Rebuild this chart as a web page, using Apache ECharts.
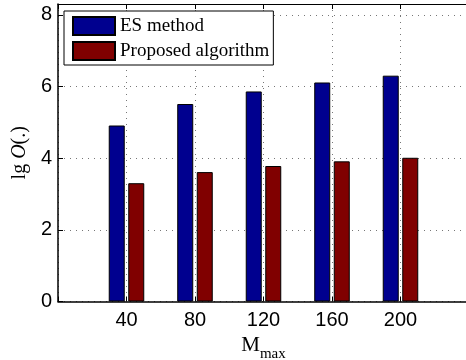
<!DOCTYPE html>
<html>
<head>
<meta charset="utf-8">
<script src="https://cdn.jsdelivr.net/npm/echarts@6/dist/echarts.min.js"></script>
<style>
    html, body { margin: 0; padding: 0; background: #fff; }
    #chart { width: 466px; height: 360px; }
</style>
</head>
<body>
<div id="chart"></div>
<script>
// M_max values and lg O(.) for each method
var mMax = [40, 80, 120, 160, 200];
var esMethod = [4.91, 5.51, 5.86, 6.11, 6.30];
var proposed = [3.30, 3.61, 3.78, 3.91, 4.01];
var xTicks = [40, 80, 120, 160, 200];

var pairs = function (ys) {
    return mMax.map(function (m, i) { return [m, ys[i]]; });
};

var gridLine = { show: true, lineStyle: { color: "#777", type: [1, 5], width: 1 } };

var chart = echarts.init(document.getElementById("chart"));
chart.setOption({
    animation: false,
    grid: { left: 58, top: 4, width: 411, height: 297.5, outerBoundsMode: "none", containLabel: false },
    legend: {
        orient: "vertical",
        left: 64,
        top: 11,
        padding: [5, 4, 4, 8],
        itemGap: 5,
        itemWidth: 42,
        itemHeight: 18,
        borderColor: "#000",
        borderWidth: 1,
        backgroundColor: "#fff",
        textStyle: { fontFamily: "Liberation Serif", fontSize: 19, color: "#000" },
        data: [
            { name: "ES method", icon: "rect" },
            { name: "Proposed algorithm", icon: "rect" }
        ]
    },
    xAxis: [
        {
            type: "value",
            min: 0,
            max: 240,
            interval: 40,
            axisLine: { lineStyle: { color: "#000", width: 1.5 } },
            axisTick: { inside: true, length: 5, lineStyle: { color: "#000" } },
            axisLabel: {
                fontFamily: "Liberation Sans",
                fontSize: 20,
                color: "#000",
                margin: 9,
                formatter: function (v) { return xTicks.indexOf(v) >= 0 ? String(v) : ""; }
            },
            splitLine: gridLine,
            name: "{m|M}{s|max}",
            nameLocation: "middle",
            nameMoveOverlap: false,
            nameGap: 27,
            nameTextStyle: {
                rich: {
                    m: { fontFamily: "Liberation Serif", fontSize: 21, color: "#000" },
                    s: { fontFamily: "Liberation Serif", fontSize: 15, color: "#000", verticalAlign: "top", padding: [18, 0, 0, 0] }
                }
            }
        },
        {
            type: "value",
            position: "top",
            min: 0,
            max: 240,
            interval: 40,
            axisLine: { show: true, lineStyle: { color: "#000", width: 1.2 } },
            axisTick: { show: true, inside: true, length: 5, lineStyle: { color: "#000" } },
            axisLabel: { show: false },
            splitLine: { show: false }
        }
    ],
    yAxis: {
        type: "value",
        min: 0,
        max: 8.3,
        interval: 2,
        axisLine: { show: true, lineStyle: { color: "#000", width: 1.5 } },
        axisTick: { show: true, inside: true, length: 5, lineStyle: { color: "#000" } },
        axisLabel: {
            fontFamily: "Liberation Sans",
            fontSize: 20,
            color: "#000",
            margin: 6,
            showMaxLabel: false
        },
        splitLine: gridLine,
        name: "{n|lg }{i|O}{n|(.)}",
        nameLocation: "middle",
        nameGap: 23,
        nameRotate: 90,
        nameTextStyle: {
            rich: {
                n: { fontFamily: "Liberation Serif", fontSize: 20, color: "#000" },
                i: { fontFamily: "Liberation Serif", fontSize: 20, fontStyle: "italic", color: "#000" }
            }
        }
    },
    series: [
        {
            name: "ES method",
            type: "bar",
            barWidth: 16,
            barGap: "22%",
            itemStyle: { color: "#00008F", borderColor: "#000", borderWidth: 1 },
            data: pairs(esMethod)
        },
        {
            name: "Proposed algorithm",
            type: "bar",
            barWidth: 16,
            barGap: "22%",
            itemStyle: { color: "#800000", borderColor: "#000", borderWidth: 1 },
            data: pairs(proposed)
        }
    ]
});
</script>
</body>
</html>
